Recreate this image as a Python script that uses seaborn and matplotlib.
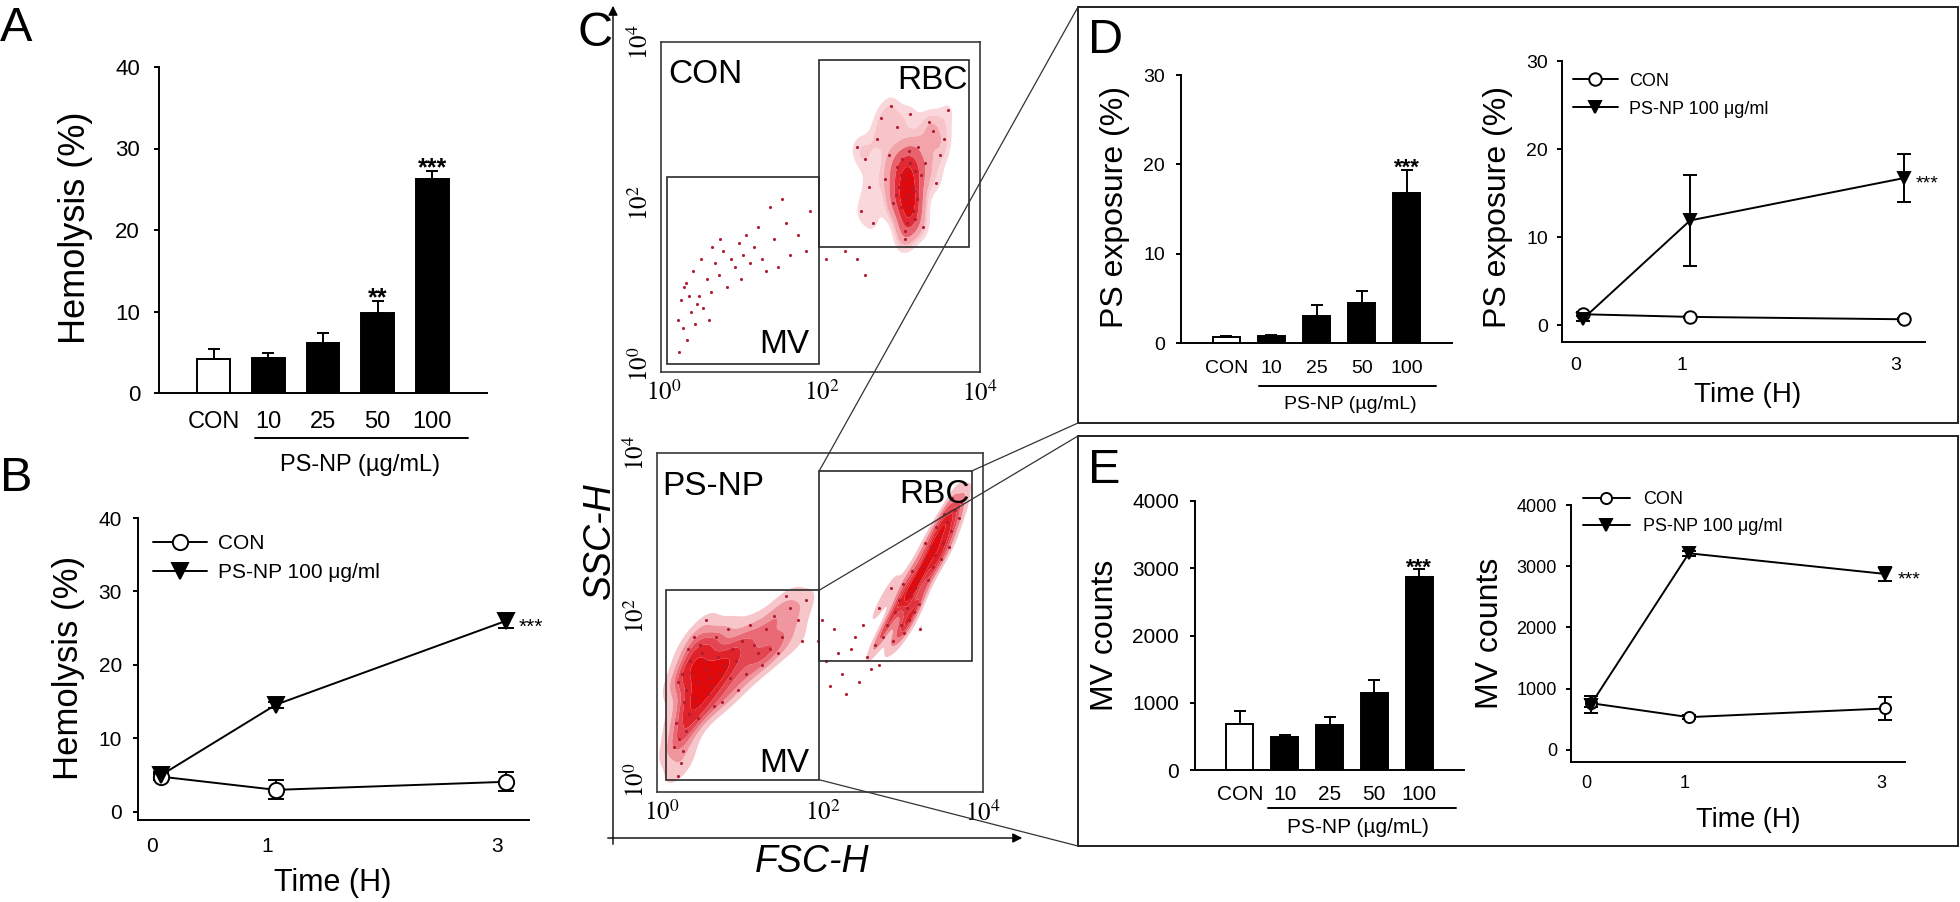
import numpy as np
import pandas as pd
import matplotlib
matplotlib.use("Agg")
import matplotlib.pyplot as plt
import matplotlib.transforms as mtrans
from matplotlib.patches import Rectangle, FancyArrowPatch, ConnectionPatch
from matplotlib.colors import LinearSegmentedColormap
import seaborn as sns

# ---------------- data ----------------
conc_labels = ["CON", "10", "25", "50", "100"]
hemo_mean = [4.2, 4.3, 6.1, 9.8, 26.2]
hemo_err = [1.2, 0.6, 1.3, 1.5, 1.0]
ps_mean = [0.65, 0.8, 3.05, 4.5, 16.8]
ps_err = [0.15, 0.12, 1.25, 1.35, 2.6]
mv_mean = [680, 486, 670, 1150, 2865]
mv_err = [190, 35, 125, 190, 120]

time_h = [0, 1, 3]
hemo_t_con = [4.8, 3.0, 4.1]
hemo_t_con_err = [0.4, 1.3, 1.3]
hemo_t_ps = [5.0, 14.6, 26.0]
hemo_t_ps_err = [0.5, 0.4, 1.0]
ps_t_con = [1.25, 0.95, 0.68]
ps_t_con_err = [0.2, 0.15, 0.15]
ps_t_ps = [0.76, 11.9, 16.7]
ps_t_ps_err = [0.3, 5.2, 2.7]
mv_t_con = [762, 533, 675]
mv_t_con_err = [60, 30, 190]
mv_t_ps = [735, 3211, 2873]
mv_t_ps_err = [136, 40, 114]

# flow cytometry events (log10 FSC-H, log10 SSC-H)
con_rbc = [(3.10, 2.10), (3.05, 2.30), (3.15, 1.90), (3.08, 1.75), (3.12, 2.50), (2.98, 2.20),
           (3.20, 2.05), (2.95, 2.45), (3.05, 1.65), (3.25, 2.35), (2.90, 2.00), (3.10, 2.65),
           (3.18, 1.80), (3.02, 2.55), (3.14, 2.20), (2.85, 2.60), (3.22, 2.70), (3.00, 1.95),
           (3.08, 2.40), (3.16, 2.15), (2.80, 2.30), (3.30, 2.50), (2.70, 2.80), (3.40, 2.90),
           (2.60, 2.20), (3.50, 2.60), (2.75, 3.05), (3.35, 3.00), (2.55, 2.55), (3.45, 2.25),
           (2.95, 2.95), (3.05, 1.55), (2.50, 1.90), (3.60, 3.15), (2.65, 1.75), (3.28, 1.70),
           (2.88, 3.20), (3.12, 3.10), (2.45, 2.70), (3.55, 2.80), (3.06, 2.05), (3.12, 1.95),
           (3.00, 2.35), (3.18, 2.40), (3.09, 1.85), (2.94, 2.10)]
con_mv = [(0.20, 0.15), (0.25, 0.45), (0.22, 0.80), (0.30, 0.30), (0.35, 0.65), (0.28, 1.00),
          (0.40, 0.50), (0.45, 0.85), (0.38, 1.15), (0.50, 0.70), (0.55, 1.05), (0.48, 1.30),
          (0.60, 0.90), (0.65, 1.25), (0.58, 0.55), (0.70, 1.10), (0.75, 1.40), (0.80, 0.95),
          (0.72, 1.55), (0.85, 1.30), (0.90, 1.20), (0.95, 1.50), (1.00, 1.35), (1.05, 1.60),
          (0.98, 1.05), (1.10, 1.25), (1.15, 1.45), (1.20, 1.70), (1.25, 1.30), (1.30, 1.15),
          (1.40, 1.55), (1.45, 1.20), (1.55, 1.75), (1.60, 1.35), (1.70, 1.60), (1.80, 1.40),
          (1.85, 1.90), (1.50, 2.05), (1.35, 1.95), (0.62, 1.45), (2.05, 1.30), (2.30, 1.40),
          (2.55, 1.10), (2.45, 1.30), (0.18, 0.55), (0.26, 0.95), (0.32, 0.85), (0.42, 0.75)]
psnp_mv = [(0.25, 1.30), (0.35, 1.45), (0.45, 1.20), (0.55, 1.35), (0.30, 1.10), (0.40, 1.00),
           (0.50, 1.55), (0.60, 1.25), (0.70, 1.50), (0.20, 1.20), (0.28, 0.95), (0.38, 1.30),
           (0.48, 1.65), (0.58, 1.05), (0.68, 1.75), (0.78, 1.40), (0.88, 1.60), (0.32, 1.60),
           (0.42, 0.90), (0.52, 1.45), (0.62, 1.15), (0.72, 1.30), (0.82, 1.85), (0.92, 1.45),
           (1.00, 1.70), (1.10, 1.90), (1.20, 1.55), (1.30, 1.85), (1.40, 2.00), (1.50, 1.75),
           (1.60, 2.10), (1.70, 1.95), (1.80, 2.20), (1.05, 1.30), (1.15, 1.65), (1.25, 1.40),
           (1.35, 1.60), (0.95, 1.10), (0.85, 1.25), (0.75, 0.95), (0.18, 0.70), (0.22, 0.50),
           (0.26, 0.35), (0.30, 0.60), (0.24, 0.20), (0.20, 0.05), (0.34, 0.80), (0.45, 0.75),
           (0.65, 0.90), (1.45, 1.55), (1.55, 2.25), (1.75, 1.70), (0.15, 0.40), (0.40, 1.75),
           (0.55, 1.95)]
psnp_rbc = [(3.10, 2.25), (3.05, 2.10), (3.15, 2.35), (3.00, 2.40), (3.20, 2.15), (3.08, 1.95),
            (2.95, 2.20), (3.12, 2.55), (3.02, 1.80), (3.18, 2.45), (2.90, 2.05), (3.25, 2.60),
            (3.06, 2.30), (2.98, 1.90), (3.14, 2.05), (3.30, 2.70), (3.35, 2.85), (3.40, 2.75),
            (3.45, 3.00), (3.50, 2.90), (3.55, 3.15), (3.60, 3.05), (3.65, 3.30), (3.70, 3.20),
            (3.72, 3.40), (3.38, 2.60), (3.48, 2.70), (3.58, 2.85), (3.42, 3.10), (3.28, 2.90),
            (2.85, 2.35), (2.80, 1.90), (2.75, 1.75), (2.70, 2.10), (2.65, 1.65), (2.88, 1.70),
            (3.22, 1.85), (3.62, 3.45), (3.52, 3.25), (3.32, 2.45)]
psnp_bridge = [(1.95, 1.70), (2.05, 1.45), (2.15, 1.85), (2.25, 1.30), (2.35, 1.60), (2.45, 1.20),
               (2.55, 1.50), (2.60, 1.35), (2.10, 1.15), (2.40, 1.75), (2.30, 1.05), (2.70, 1.40),
               (2.00, 1.95), (2.20, 1.55), (2.50, 1.90)]

# gates (log10 x0, x1, y0, y1)
gate_mv = (0.05, 1.96, 0.0, 2.32)
gate_rbc = (1.96, 3.86, 1.45, 3.78)

# ---------------- style ----------------
sns.set_theme(style="ticks")
plt.rcParams["font.family"] = ["Liberation Sans", "DejaVu Sans"]
plt.rcParams["mathtext.fontset"] = "stix"
plt.rcParams["axes.linewidth"] = 1.4
plt.rcParams["axes.edgecolor"] = "black"
plt.rcParams["xtick.color"] = "black"
plt.rcParams["ytick.color"] = "black"
plt.rcParams["text.color"] = "black"
plt.rcParams["axes.labelcolor"] = "black"

W, H = 1960, 902
fig = plt.figure(figsize=(W / 100, H / 100), dpi=100)
fig.patch.set_facecolor("white")


def add_ax(l, t, r, b):
    return fig.add_axes([l / W, 1 - b / H, (r - l) / W, (b - t) / H])


def fx(x):
    return x / W


def fy(y):
    return 1 - y / H


LW = 1.4


def bar_panel(ax, means, errs, ylim, yticks, ylabel, fs_tick, fs_xtick, fs_lab,
              ypad, xpad, lab_xy, ul, ul_y, txt_xy, stars, fs_star):
    df = pd.DataFrame({"conc": conc_labels, "val": means})
    pal = {c: ("white" if c == "CON" else "black") for c in conc_labels}
    sns.barplot(data=df, x="conc", y="val", hue="conc", order=conc_labels, palette=pal,
                legend=False, errorbar=None, width=0.6, edgecolor="black", linewidth=LW,
                ax=ax)
    ax.errorbar(range(len(means)), means, yerr=[np.zeros(len(errs)), errs], fmt="none",
                ecolor="black", elinewidth=LW, capsize=4, capthick=LW, zorder=3)
    ax.set_xlim(-1, 5)
    ax.set_ylim(*ylim)
    ax.set_yticks(yticks)
    sns.despine(ax=ax)
    ax.tick_params(axis="y", direction="out", length=3.6, width=LW, labelsize=fs_tick, pad=ypad)
    ax.tick_params(axis="x", length=0, labelsize=fs_xtick, pad=xpad)
    ax.set_xlabel("")
    ax.set_ylabel(ylabel, fontsize=fs_lab, va="center")
    ax.yaxis.set_label_coords(*lab_xy)
    tr = ax.get_xaxis_transform()
    ax.plot(ul, [ul_y, ul_y], transform=tr, clip_on=False, color="black", lw=LW)
    ax.text(txt_xy[0], txt_xy[1], "PS-NP (µg/mL)", transform=tr, ha="center", va="center",
            fontsize=fs_xtick)
    for idx, s in stars:
        ax.annotate(s, xy=(idx, means[idx] + errs[idx]), xytext=(0, -3), textcoords="offset points",
                    ha="center", va="baseline", fontsize=fs_star, fontweight="bold")


def time_panel(ax, con, con_err, ps, ps_err, ylim, yticks, ylabel, fs_tick, fs_leg, fs_lab,
               fs_xlab, ms, cap, ypad, xpad, ylab_xy, xlab_xy, leg_xy, leg_hl, leg_tp, leg_ls,
               shift_px, fs_star):
    ax.errorbar(time_h, con, yerr=con_err, fmt="none", ecolor="black", elinewidth=LW,
                capsize=cap, capthick=LW, zorder=2)
    ax.errorbar(time_h, ps, yerr=ps_err, fmt="none", ecolor="black", elinewidth=LW,
                capsize=cap, capthick=LW, zorder=2)
    sns.lineplot(x=time_h, y=con, ax=ax, color="black", linewidth=LW, marker="o",
                 markersize=ms, markerfacecolor="white", markeredgecolor="black",
                 markeredgewidth=LW, label="CON", zorder=3)
    sns.lineplot(x=time_h, y=ps, ax=ax, color="black", linewidth=LW, marker="v",
                 markersize=ms, markerfacecolor="black", markeredgecolor="black",
                 markeredgewidth=LW, label="PS-NP 100 μg/ml", zorder=4)
    ax.set_xlim(-0.2, 3.2)
    ax.set_ylim(*ylim)
    ax.set_xticks(time_h)
    ax.set_xticklabels([str(t) for t in time_h])
    ax.set_yticks(yticks)
    sns.despine(ax=ax)
    ax.tick_params(axis="y", direction="out", length=3.6, width=LW, labelsize=fs_tick, pad=ypad)
    ax.tick_params(axis="x", length=0, labelsize=fs_tick, pad=xpad)
    off = mtrans.ScaledTranslation(shift_px / 100, 0, fig.dpi_scale_trans)
    for lab in ax.get_xticklabels():
        lab.set_transform(lab.get_transform() + off)
    ax.set_ylabel(ylabel, fontsize=fs_lab, va="center")
    ax.yaxis.set_label_coords(*ylab_xy)
    ax.set_xlabel("Time (H)", fontsize=fs_xlab, va="center")
    ax.xaxis.set_label_coords(*xlab_xy)
    ax.legend(loc="upper left", bbox_to_anchor=leg_xy, frameon=False, fontsize=fs_leg,
              handlelength=leg_hl, handletextpad=leg_tp, labelspacing=leg_ls, borderpad=0,
              borderaxespad=0)
    ax.annotate("***", xy=(time_h[-1], ps[-1]), xytext=(9, -0.55 * fs_star),
                textcoords="offset points", ha="left", va="baseline", fontsize=fs_star)


red_cmap = LinearSegmentedColormap.from_list("flow", ["#fbe0e3", "#f2a0a8", "#e4505c", "#df1a22", "#e00000"])


def flow_panel(ax, sparse, dense, xl, yl, labels):
    ax.set_xscale("log")
    ax.set_yscale("log")
    for pts in dense:
        xs = 10 ** np.array([p[0] for p in pts])
        ys = 10 ** np.array([p[1] for p in pts])
        sns.kdeplot(x=xs, y=ys, ax=ax, fill=True, log_scale=True, cmap=red_cmap, levels=7,
                    thresh=0.12, bw_adjust=0.75, antialiased=True)
    for pts in sparse + dense:
        xs = 10 ** np.array([p[0] for p in pts])
        ys = 10 ** np.array([p[1] for p in pts])
        sns.scatterplot(x=xs, y=ys, ax=ax, s=5, color="#b01c30", linewidth=0, zorder=3)
    ax.set_xlim(10 ** xl[0], 10 ** xl[1])
    ax.set_ylim(10 ** yl[0], 10 ** yl[1])
    ax.set_xticks([1, 100, 10000])
    ax.set_xticklabels([r"$10^{0}$", r"$10^{2}$", r"$10^{4}$"])
    ax.set_yticks([1, 100, 10000])
    ax.set_yticklabels([r"$10^{0}$", r"$10^{2}$", r"$10^{4}$"], rotation=90, va="center")
    ax.minorticks_off()
    ax.tick_params(length=0, labelsize=18, pad=6)
    for sp in ax.spines.values():
        sp.set_color("#3a3a3a")
        sp.set_linewidth(1.2)
    for g in (gate_mv, gate_rbc):
        ax.add_patch(Rectangle((10 ** g[0], 10 ** g[2]), 10 ** g[1] - 10 ** g[0],
                               10 ** g[3] - 10 ** g[2], fill=False, ec="#2a2a2a", lw=1.2,
                               zorder=4))
    for (tx, ty, s, ha) in labels:
        ax.text(10 ** tx, 10 ** ty, s, ha=ha, va="baseline", fontsize=24, zorder=5)
    ax.set_xlabel("")
    ax.set_ylabel("")


# ---------------- panel A ----------------
axA = add_ax(159, 67, 487, 393)
bar_panel(axA, hemo_mean, hemo_err, (0, 40), [0, 10, 20, 30, 40], "Hemolysis (%)",
          16, 17, 26, 10, 13, (-0.256, 0.506), [0.75, 4.65], -0.138, (2.68, -0.22),
          [(3, "**"), (4, "***")], 18)

# ---------------- panel B ----------------
axB = add_ax(138, 518, 529, 820)
time_panel(axB, hemo_t_con, hemo_t_con_err, hemo_t_ps, hemo_t_ps_err, (-1.1, 40),
           [0, 10, 20, 30, 40], "Hemolysis (%)", 15, 15, 25, 22, 11, 6, 8, 12,
           (-0.179, 0.503), (0.499, -0.209), (0.038, 0.947), 2.6, 0.53, 0.48, -9, 15)

# ---------------- panel C ----------------
axC1 = add_ax(661, 42, 980, 372)
flow_panel(axC1, [con_mv], [con_rbc], (-0.03, 4.0), (-0.1, 4.0),
           [(0.06, 3.49, "CON", "left"), (3.85, 3.42, "RBC", "right"), (1.85, 0.14, "MV", "right")])
axC2 = add_ax(657, 453, 983, 792)
flow_panel(axC2, [psnp_bridge], [psnp_mv, psnp_rbc], (-0.06, 4.0), (-0.15, 4.0),
           [(0.01, 3.49, "PS-NP", "left"), (3.84, 3.39, "RBC", "right"), (1.84, 0.09, "MV", "right")])

fig.add_artist(FancyArrowPatch((fx(613), fy(847)), (fx(613), fy(3)), transform=fig.transFigure,
                               arrowstyle="-|>", mutation_scale=14, lw=1.0, color="black"))
fig.add_artist(FancyArrowPatch((fx(605), fy(838)), (fx(1025), fy(838)), transform=fig.transFigure,
                               arrowstyle="-|>", mutation_scale=14, lw=1.0, color="black"))
fig.text(fx(600), fy(541), "SSC-H", rotation=90, style="italic", fontsize=27, ha="center", va="center")
fig.text(fx(812), fy(862), "FSC-H", style="italic", fontsize=27, ha="center", va="center")

# ---------------- boxes D / E ----------------
for (t, b) in ((7, 423), (436, 846)):
    fig.add_artist(Rectangle((fx(1078), fy(b)), (1958 - 1078) / W, (b - t) / H,
                             transform=fig.transFigure, fill=False, ec="#222222", lw=1.4))

# connector lines from gates to boxes
conns = [((gate_rbc[0], gate_rbc[3]), (1078, 7)), ((gate_rbc[1], gate_rbc[3]), (1078, 423)),
         ((gate_mv[1], gate_mv[3]), (1078, 436)), ((gate_mv[1], gate_mv[2]), (1078, 846))]
for (gx, gy), (bx, by) in conns:
    fig.add_artist(ConnectionPatch(xyA=(10 ** gx, 10 ** gy), coordsA=axC2.transData,
                                   xyB=(fx(bx), fy(by)), coordsB=fig.transFigure,
                                   color="#333333", lw=0.9))

# ---------------- panel D ----------------
axD1 = add_ax(1181, 75, 1452, 343)
bar_panel(axD1, ps_mean, ps_err, (0, 30), [0, 10, 20, 30], "PS exposure (%)",
          14, 14, 23, 8, 12, (-0.244, 0.507), [0.72, 4.65], -0.16, (2.75, -0.23),
          [(4, "***")], 16)
axD2 = add_ax(1562, 61, 1925, 342)
time_panel(axD2, ps_t_con, ps_t_con_err, ps_t_ps, ps_t_ps_err, (-1.9, 30), [0, 10, 20, 30],
           "PS exposure (%)", 14, 13, 23, 20, 9, 5, 6.5, 11, (-0.176, 0.48), (0.512, -0.188),
           (0.03, 0.959), 2.5, 0.6, 0.61, -8, 14)

# ---------------- panel E ----------------
axE1 = add_ax(1195, 501, 1464, 770)
bar_panel(axE1, mv_mean, mv_err, (0, 4000), [0, 1000, 2000, 3000, 4000], "MV counts",
          15, 15, 23, 8, 11, (-0.335, 0.502), [0.63, 4.82], -0.141, (2.63, -0.212),
          [(4, "***")], 16)
axE2 = add_ax(1571, 505, 1905, 762)
time_panel(axE2, mv_t_con, mv_t_con_err, mv_t_ps, mv_t_ps_err, (-200, 4000),
           [0, 1000, 2000, 3000, 4000], "MV counts", 13, 13, 23, 19.5, 8, 5, 6.5, 9,
           (-0.243, 0.502), (0.53, -0.226), (0.036, 1.053), 2.6, 0.72, 0.55, -4, 14)

# ---------------- panel letters ----------------
for s, x, y in (("A", 0, 41), ("B", 0, 491), ("C", 578, 46), ("D", 1088, 53), ("E", 1088, 483)):
    fig.text(fx(x), fy(y), s, fontsize=35, ha="left", va="baseline")

fig.savefig("out.png", dpi=100, facecolor="white")
